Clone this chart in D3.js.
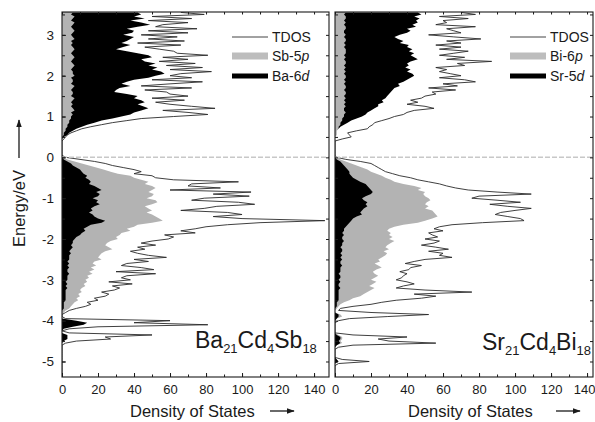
<!DOCTYPE html>
<html>
<head>
<meta charset="utf-8">
<script src="https://cdn.jsdelivr.net/npm/d3@7"></script>
<style>
  body { margin: 0; background: #fff; }
  text { font-family: "Liberation Sans", Arial, sans-serif; fill: #1a1a1a; }
</style>
</head>
<body>
<svg id="chart" width="595" height="422"></svg>
<script>
// energy grid (eV), top of the plot to bottom
const energies = [
  3.55,3.5,3.45,3.4,3.35,3.3,3.25,3.2,3.15,3.1,
  3.05,3,2.95,2.9,2.85,2.8,2.75,2.7,2.65,2.6,
  2.55,2.5,2.45,2.4,2.35,2.3,2.25,2.2,2.15,2.1,
  2.05,2,1.95,1.9,1.85,1.8,1.75,1.7,1.65,1.6,
  1.55,1.5,1.45,1.4,1.35,1.3,1.25,1.2,1.15,1.1,
  1.05,1,0.95,0.9,0.85,0.8,0.75,0.7,0.65,0.6,
  0.55,0.5,0.45,0.4,0.35,0.3,0.25,0.2,0.15,0.1,
  0.05,0,-0.05,-0.1,-0.15,-0.2,-0.25,-0.3,-0.35,-0.4,
  -0.45,-0.5,-0.55,-0.6,-0.65,-0.7,-0.75,-0.8,-0.85,-0.9,
  -0.95,-1,-1.05,-1.1,-1.15,-1.2,-1.25,-1.3,-1.35,-1.4,
  -1.45,-1.5,-1.55,-1.6,-1.65,-1.7,-1.75,-1.8,-1.85,-1.9,
  -1.95,-2,-2.05,-2.1,-2.15,-2.2,-2.25,-2.3,-2.35,-2.4,
  -2.45,-2.5,-2.55,-2.6,-2.65,-2.7,-2.75,-2.8,-2.85,-2.9,
  -2.95,-3,-3.05,-3.1,-3.15,-3.2,-3.25,-3.3,-3.35,-3.4,
  -3.45,-3.5,-3.55,-3.6,-3.65,-3.7,-3.75,-3.8,-3.85,-3.9,
  -3.95,-4,-4.05,-4.1,-4.15,-4.2,-4.25,-4.3,-4.35,-4.4,
  -4.45,-4.5,-4.55,-4.6,-4.65,-4.7,-4.75,-4.8,-4.85,-4.9,
  -4.95,-5,-5.05,-5.1,-5.15,-5.2,-5.25,-5.3
];

// Ba21Cd4Sb18
const baTdos = [
  66,79,50,72,48,70,56,52,75,48,
  70,44,64,48,68,42,66,46,54,62,
  64,81,56,70,54,74,58,78,60,83,
  66,60,72,50,78,60,44,72,46,58,
  60,70,50,68,52,60,72,85,56,70,
  81,62,44,36,28,22,16,11,8,5,
  3,2,1,0,0,0,0,0,0,0,
  0,2,10,18,24,28,34,40,44,40,
  50,52,62,98,72,70,88,60,105,84,
  104,79,72,98,107,86,79,66,92,100,
  84,100,146,110,92,80,74,66,74,57,
  62,59,50,44,52,42,46,38,42,48,
  58,40,48,36,33,44,51,30,52,36,
  33,38,26,39,28,32,29,22,26,24,
  18,20,14,16,13,8,4,2,0,0,
  2,60,40,81,20,4,0,4,50,24,
  27,8,2,0,0,0,0,0,0,0,
  0,0,0,0,0,0,0,0
];
const sb5p = [
  6,5,7,6,5,7,6,5,6,7,
  6,5,6,7,5,6,5,6,7,6,
  5,6,7,6,5,6,7,6,5,6,
  6,7,5,6,6,5,7,6,5,6,
  6,5,7,6,5,6,5,6,7,5,
  6,5,5,4,4,3,3,2,2,1,
  1,0,0,0,0,0,0,0,0,0,
  0,0,3,7,11,15,19,23,27,31,
  38,40,44,48,46,50,52,50,48,51,
  50,47,52,53,50,46,48,50,47,50,
  52,54,56,50,42,40,36,38,33,32,
  30,31,27,25,24,26,28,24,22,21,
  20,22,18,17,19,16,18,15,17,14,
  15,13,14,12,13,11,10,11,9,10,
  8,9,7,6,5,4,2,1,0,0,
  0,3,5,4,2,0,0,0,2,2,
  2,1,0,0,0,0,0,0,0,0,
  0,0,0,0,0,0,0,0
];
const ba6d = [
  42,44,40,46,38,44,49,42,36,40,
  39,34,40,38,36,33,38,34,30,36,
  42,48,50,44,46,52,48,53,50,55,
  57,52,48,40,36,33,38,32,30,29,
  36,42,40,44,46,42,45,48,44,40,
  38,33,28,22,18,14,11,8,6,4,
  3,1,0,0,0,0,0,0,0,0,
  0,0,1,3,5,6,8,10,11,12,
  14,13,15,16,15,18,20,22,19,21,
  20,17,20,19,21,18,16,17,15,17,
  18,20,24,22,16,14,12,13,11,10,
  8,7,6,6,5,6,5,4,5,4,
  4,4,3,4,3,4,3,3,4,3,
  3,3,2,3,2,3,2,2,2,2,
  2,2,1,1,1,1,0,0,0,0,
  0,8,14,12,6,1,0,0,3,3,
  3,1,0,0,0,0,0,0,0,0,
  0,0,0,0,0,0,0,0
];

// Sr21Cd4Bi18
const srTdos = [
  70,78,58,74,60,62,56,78,62,66,
  70,52,66,81,62,70,56,70,58,74,
  66,58,72,62,87,68,72,56,62,58,
  64,70,58,72,78,60,68,52,67,54,
  56,50,48,42,46,40,50,55,44,40,
  38,33,30,26,22,21,19,18,12,7,
  8,9,4,0,0,0,0,0,0,0,
  0,1,6,14,20,22,24,26,28,32,
  36,42,46,52,58,62,67,74,90,109,
  80,76,90,103,86,96,109,100,92,89,
  96,103,105,82,65,58,55,60,52,54,
  57,50,58,55,48,56,63,52,60,58,
  65,50,44,39,48,42,41,36,40,38,
  37,34,40,44,38,34,50,76,44,56,
  48,34,26,20,10,3,2,20,52,29,
  8,2,0,0,0,0,0,0,10,40,
  24,30,56,10,2,0,0,0,0,0,
  4,19,2,0,0,0,0,0
];
const bi6p = [
  6,5,6,6,5,6,5,6,6,5,
  5,6,5,6,6,5,6,5,6,6,
  6,5,6,5,6,6,5,6,5,6,
  5,6,6,5,6,5,6,6,5,6,
  6,5,6,5,6,5,6,5,5,6,
  5,5,4,4,3,3,2,2,1,1,
  1,0,0,0,0,0,0,0,0,0,
  0,1,3,6,9,12,15,18,20,23,
  26,28,31,33,38,44,48,46,50,49,
  50,52,53,51,50,52,50,54,55,56,
  57,54,50,46,38,33,30,29,31,30,
  32,30,33,31,29,28,30,27,29,28,
  26,24,25,22,24,26,23,21,22,24,
  22,20,23,21,19,22,20,18,16,14,
  10,8,5,3,2,1,0,0,3,4,
  1,0,0,0,0,0,0,0,2,4,
  4,3,4,1,0,0,0,0,0,0,
  1,2,0,0,0,0,0,0
];
const sr5d = [
  46,48,44,47,45,46,43,45,40,42,
  40,36,33,35,38,36,41,40,43,41,
  44,42,44,46,42,40,41,39,42,40,
  43,44,42,40,38,35,36,33,32,31,
  30,29,28,26,27,24,24,22,20,18,
  17,15,12,9,7,5,3,2,0,0,
  0,0,0,0,0,0,0,0,0,0,
  0,0,1,3,4,5,6,7,8,8,
  9,10,12,14,17,18,19,20,21,20,
  17,15,16,18,17,18,16,15,14,15,
  12,10,9,8,7,6,5,5,4,5,
  4,4,5,4,4,3,4,4,3,4,
  3,4,3,3,4,3,3,3,2,3,
  3,2,3,2,2,3,2,2,2,2,
  2,2,1,1,1,0,0,0,2,2,
  1,0,0,0,0,0,0,0,1,3,
  3,2,3,1,0,0,0,0,0,0,
  1,2,0,0,0,0,0,0
];

const xTicks = [0, 20, 40, 60, 80, 100, 120, 140];
const yTicks = [3, 2, 1, 0, -1, -2, -3, -4, -5];

const panels = [
  { id: "ba", x0: 62, x1: 329, xMax: 148.3, tdos: baTdos, gray: sb5p, black: ba6d,
    legend: ["TDOS", ["Sb-5", "p"], ["Ba-6", "d"]], legX: 232,
    formula: [["Ba", 0], ["21", 1], ["Cd", 0], ["4", 1], ["Sb", 0], ["18", 1]], fx: 195, fy: 348,
    titleX: 130, arrow: [270, 294] },
  { id: "sr", x0: 335, x1: 593, xMax: 143.3, tdos: srTdos, gray: bi6p, black: sr5d,
    legend: ["TDOS", ["Bi-6", "p"], ["Sr-5", "d"]], legX: 510,
    formula: [["Sr", 0], ["21", 1], ["Cd", 0], ["4", 1], ["Bi", 0], ["18", 1]], fx: 482, fy: 350,
    titleX: 408, arrow: [556, 580] }
];

const svg = d3.select("#chart");
const y = d3.scaleLinear().domain([-5.38, 3.56]).range([377, 12]);

const defs = svg.append("defs");
defs.append("marker").attr("id", "head")
  .attr("viewBox", "0 0 10 10").attr("refX", 9).attr("refY", 5)
  .attr("markerWidth", 6).attr("markerHeight", 6).attr("orient", "auto")
  .append("path").attr("d", "M0,1.5L10,5L0,8.5Z").attr("fill", "#1a1a1a");
defs.append("filter").attr("id", "soft")
  .append("feGaussianBlur").attr("stdDeviation", 0.7);

panels.forEach(p => {
  const x = d3.scaleLinear().domain([0, p.xMax]).range([p.x0, p.x1]);
  const rows = energies.map((e, i) => ({ e, t: p.tdos[i], g: p.gray[i], b: p.black[i] }));

  defs.append("clipPath").attr("id", "clip-" + p.id)
    .append("rect").attr("x", p.x0).attr("y", y(3.56))
    .attr("width", p.x1 - p.x0).attr("height", y(-5.38) - y(3.56));

  const g = svg.append("g").attr("clip-path", `url(#clip-${p.id})`);
  const area = key => d3.area().y(d => y(d.e)).x0(x(0)).x1(d => x(d[key]));

  const valence = rows.filter(d => d.e <= 0);
  const conduction = rows.filter(d => d.e >= 0);

  // below Ef the black projection sits in front, above Ef the grey one does
  g.append("path").datum(valence).attr("d", area("g")).attr("fill", "#b3b3b3");
  g.append("path").datum(valence).attr("d", area("b")).attr("fill", "#000");
  g.append("path").datum(conduction).attr("d", area("b")).attr("fill", "#000");
  g.append("path").datum(conduction).attr("d", area("g")).attr("fill", "#b3b3b3");

  g.append("path").datum(rows)
    .attr("d", d3.line().x(d => x(d.t)).y(d => y(d.e)))
    .attr("fill", "none").attr("stroke", "#2a2a2a").attr("stroke-width", 0.9);

  // Fermi level
  svg.append("line")
    .attr("x1", p.x0).attr("x2", p.x1).attr("y1", y(0)).attr("y2", y(0))
    .attr("stroke", "#c8c8c8").attr("stroke-width", 1.5).attr("stroke-dasharray", "5,2");

  // axes, ticks pointing inwards
  const minorX = d3.range(0, p.xMax, 10);
  const minorY = d3.range(-5.0, 3.6, 0.5);
  const ax = (axis, tr, size) => {
    const a = svg.append("g").attr("transform", tr).call(axis.tickSize(size).tickSizeOuter(0));
    a.select(".domain").remove();
    a.selectAll("line").attr("stroke", "#1a1a1a");
    return a;
  };
  ax(d3.axisBottom(x).tickValues(minorX).tickFormat(""), `translate(0,${y(-5.38)})`, -2.5);
  ax(d3.axisTop(x).tickValues(minorX).tickFormat(""), `translate(0,${y(3.56)})`, -2.5);
  ax(d3.axisLeft(y).tickValues(minorY).tickFormat(""), `translate(${p.x0},0)`, -3);
  ax(d3.axisRight(y).tickValues(minorY).tickFormat(""), `translate(${p.x1},0)`, -3);

  const bx = ax(d3.axisBottom(x).tickValues(xTicks), `translate(0,${y(-5.38)})`, -4);
  bx.selectAll("text").attr("font-size", 13).attr("dy", "1.05em")
    .attr("font-family", "Liberation Sans, Arial, sans-serif").attr("fill", "#1a1a1a");
  // last label of the right panel sits against the page edge
  if (p.id === "sr") bx.selectAll("text").filter(d => d === 140).attr("dx", -3);

  svg.append("rect").attr("x", p.x0).attr("y", y(3.56))
    .attr("width", p.x1 - p.x0).attr("height", y(-5.38) - y(3.56))
    .attr("fill", "none").attr("stroke", "#1a1a1a").attr("stroke-width", 1.1);

  // legend
  const ly = [37, 56, 76];
  const lg = svg.append("g");
  lg.append("line").attr("x1", p.legX).attr("x2", p.legX + 36).attr("y1", ly[0]).attr("y2", ly[0])
    .attr("stroke", "#444").attr("stroke-width", 1);
  lg.append("rect").attr("x", p.legX).attr("y", ly[1] - 3.5).attr("width", 36).attr("height", 7)
    .attr("fill", "#bdbdbd").attr("filter", "url(#soft)");
  lg.append("rect").attr("x", p.legX).attr("y", ly[2] - 2.5).attr("width", 36).attr("height", 5)
    .attr("fill", "#000");
  p.legend.forEach((lab, i) => {
    const t = lg.append("text").attr("x", p.legX + 40).attr("y", ly[i] + 5).attr("font-size", 14);
    if (typeof lab === "string") t.text(lab);
    else {
      t.append("tspan").text(lab[0]);
      t.append("tspan").attr("font-style", "italic").text(lab[1]);
    }
  });

  // compound label
  const ft = svg.append("text").attr("x", p.fx).attr("y", p.fy).attr("font-size", 23);
  let sub = 0;
  p.formula.forEach(([s, isSub]) => {
    const dy = isSub === sub ? 0 : (isSub ? 5 : -5);
    ft.append("tspan").attr("font-size", isSub ? 13 : 23).attr("dy", dy).text(s);
    sub = isSub;
  });

  // x title
  svg.append("text").attr("x", p.titleX).attr("y", 417).attr("font-size", 16.5).text("Density of States");
  svg.append("line").attr("x1", p.arrow[0]).attr("x2", p.arrow[1]).attr("y1", 411).attr("y2", 411)
    .attr("stroke", "#1a1a1a").attr("stroke-width", 1.3).attr("marker-end", "url(#head)");
});

// energy axis labels (left panel only)
const yl = svg.append("g").attr("transform", `translate(${panels[0].x0},0)`)
  .call(d3.axisLeft(y).tickValues(yTicks).tickSize(-4).tickSizeOuter(0)
    .tickFormat(d => d < 0 ? "-" + Math.abs(d) : d));
yl.select(".domain").remove();
yl.selectAll("line").attr("stroke", "#1a1a1a");
yl.selectAll("text").attr("font-size", 13.5).attr("x", -8)
  .attr("font-family", "Liberation Sans, Arial, sans-serif").attr("fill", "#1a1a1a");

svg.append("text").attr("transform", "translate(25,247) rotate(-90)")
  .attr("font-size", 16.5).text("Energy/eV");
svg.append("line").attr("x1", 19).attr("x2", 19).attr("y1", 158).attr("y2", 120)
  .attr("stroke", "#1a1a1a").attr("stroke-width", 1.3).attr("marker-end", "url(#head)");
</script>
</body>
</html>
